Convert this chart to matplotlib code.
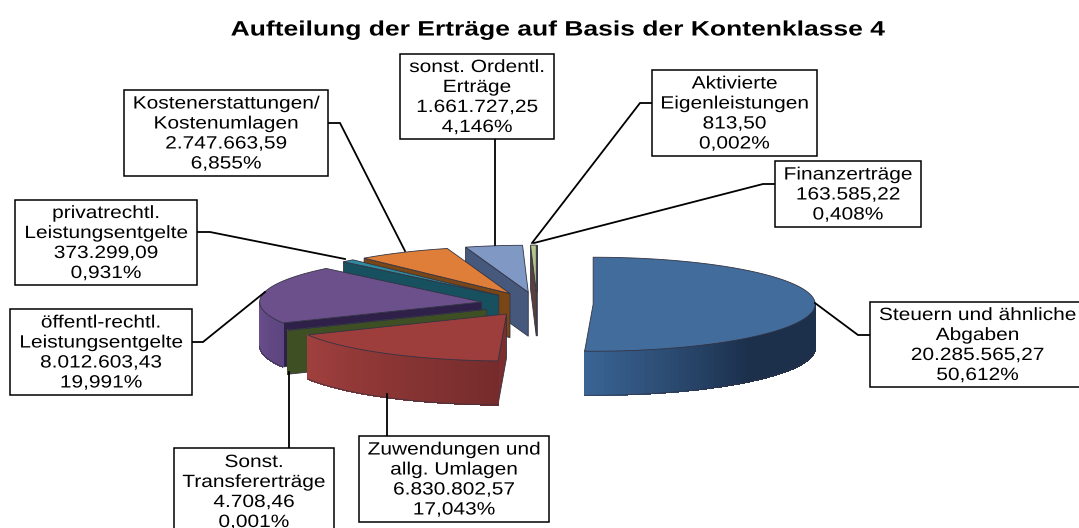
import numpy as np
import matplotlib
matplotlib.use("Agg")
import matplotlib.pyplot as plt
from matplotlib.patches import Polygon, Rectangle
from matplotlib.patheffects import AbstractPathEffect
from matplotlib.transforms import Affine2D

plt.rcParams['font.family'] = ['Liberation Sans', 'DejaVu Sans']

title = "Aufteilung der Erträge auf Basis der Kontenklasse 4"
names = ["Steuern und ähnliche\nAbgaben", "Zuwendungen und\nallg. Umlagen", "Sonst.\nTransfererträge",
         "öffentl-rechtl.\nLeistungsentgelte", "privatrechtl.\nLeistungsentgelte",
         "Kostenerstattungen/\nKostenumlagen", "sonst. Ordentl.\nErträge",
         "Finanzerträge", "Aktivierte\nEigenleistungen"]
values = [20285565.27, 6830802.57, 4708.46, 8012603.43, 373299.09,
          2747663.59, 1661727.25, 163585.22, 813.50]
value_labels = ["20.285.565,27", "6.830.802,57", "4.708,46", "8.012.603,43", "373.299,09",
                "2.747.663,59", "1.661.727,25", "163.585,22", "813,50"]
percent_labels = ["50,612%", "17,043%", "0,001%", "19,991%", "0,931%",
                  "6,855%", "4,146%", "0,408%", "0,002%"]

tops = ["#426c9b", "#9e3e3c", "#4d5f2c", "#6c508c", "#2f8a9e", "#de7e38", "#8098c4", "#b4c68a", "#b4c68a"]
rim_l = ["#3a6596", "#a0403e", "#3f4f24", "#6a4f8c", "#1d5a6c", "#8a4f1c", "#46587c", "#5a4038", "#5a4038"]
rim_r = ["#1c304c", "#762c2c", "#3f4f24", "#5d4580", "#1d5a6c", "#6e3f14", "#46587c", "#5a4038", "#5a4038"]
sides = ["#1c304c", "#7c2e2e", "#3f4f24", "#2e2048", "#17505f", "#7a4615", "#46587c", "#5a4038", "#5a4038"]

# box x0, y0, x1, y1 and leader line in picture pixels, two boxes run off the picture
boxes = [(870, 302, 1085, 387), (359, 436, 549, 522), (174, 448, 334, 535), (10, 309, 192, 395),
         (15, 200, 197, 285), (124, 90, 328, 176), (400, 54, 554, 139), (775, 161, 921, 227),
         (652, 70, 817, 156)]
leaders = [[(870, 335), (858, 335), (815, 303)], [(387, 436), (387, 394)], [(289, 448), (289, 372)],
           [(192, 342), (203, 342), (265, 292)], [(197, 232), (210, 232), (345, 259)],
           [(328, 123), (340, 123), (405, 251)], [(495, 139), (495, 245)],
           [(775, 184), (763, 184), (534, 243)], [(652, 103), (640, 103), (532, 243)]]

cx, cy = 537, 304
rx, ry = 222, 47
depth = 44
explode = 0.253
text_stretch = 1.175
title_stretch = 1.27


class Stretch(AbstractPathEffect):
    # the reference text is wider than the font, widen it about its centre
    def __init__(self, x_centre, sx):
        super().__init__()
        self.x_centre = x_centre
        self.sx = sx

    def draw_path(self, renderer, gc, tpath, affine, rgbFace=None):
        tr = affine + Affine2D().translate(-self.x_centre, 0).scale(self.sx, 1).translate(self.x_centre, 0)
        renderer.draw_path(gc, tpath, tr, rgbFace)


def pt(ox, oy, a):
    return ox + rx * np.sin(a), oy - ry * np.cos(a)


def mix(c1, c2, t):
    a = np.array(matplotlib.colors.to_rgb(c1))
    b = np.array(matplotlib.colors.to_rgb(c2))
    return a + (b - a) * t


fig = plt.figure(figsize=(10.79, 5.28), dpi=100)
ax = fig.add_axes([0, 0, 1, 1])
ax.set_xlim(0, 1079)
ax.set_ylim(528, 0)
ax.axis("off")

total = sum(values)
edges = np.concatenate([[0], np.cumsum(values) / total * 2 * np.pi])
edge_col = "#333344"

for i in list(range(8, -1, -1)):
    a0, a1 = edges[i], edges[i + 1]
    mid = (a0 + a1) / 2
    ox = cx + explode * rx * np.sin(mid)
    oy = cy - explode * ry * np.cos(mid)

    # radial side faces that look to the viewer
    if np.sin(a0) < 0:
        x, y = pt(ox, oy, a0)
        ax.add_patch(Polygon([(ox, oy), (x, y), (x, y + depth), (ox, oy + depth)], fc=sides[i], ec=edge_col, lw=0.6))
    if np.sin(a1) > 0.001:
        x, y = pt(ox, oy, a1)
        ax.add_patch(Polygon([(ox, oy), (x, y), (x, y + depth), (ox, oy + depth)], fc=sides[i], ec=edge_col, lw=0.6))

    # front rim with a colour run along the arc, darker to the right
    lo, hi = max(a0, np.pi / 2), min(a1, 3 * np.pi / 2)
    if hi > lo:
        ts = np.linspace(lo, hi, 80)
        for k in range(len(ts) - 1):
            x0, y0 = pt(ox, oy, ts[k])
            x1, y1 = pt(ox, oy, ts[k + 1])
            t = 1 - k / 79
            if i == 0:
                t = min(1, 2 * t)
            ax.add_patch(Polygon([(x0, y0), (x1, y1), (x1, y1 + depth), (x0, y0 + depth)],
                                 fc=mix(rim_l[i], rim_r[i], t), ec=mix(rim_l[i], rim_r[i], t), lw=0.5,
                                 antialiased=False))
        xs, ys = pt(ox, oy, ts)
        ax.plot(xs, ys + depth, color=edge_col, lw=0.5)

    # top face
    ts = np.linspace(a0, a1, max(3, int((a1 - a0) * 60)))
    xs, ys = pt(ox, oy, ts)
    ax.add_patch(Polygon(np.vstack([[ox, oy], np.column_stack([xs, ys])]), fc=tops[i], ec=edge_col, lw=0.6))

to_px = ax.transData
for i in range(9):
    ax.plot(*zip(*leaders[i]), color="black", lw=1.3, solid_joinstyle="miter")
    x0, y0, x1, y1 = boxes[i]
    ax.add_patch(Rectangle((x0, y0), x1 - x0, y1 - y0, fc="white", ec="black", lw=1.1, zorder=3))
    xc = (x0 + x1) / 2
    yc = (y0 + y1) / 2
    ax.text(xc, yc + 1, names[i] + "\n" + value_labels[i] + "\n" + percent_labels[i],
            ha="center", va="center", fontsize=12.8, linespacing=1.23, color="black", zorder=4,
            path_effects=[Stretch(to_px.transform((xc, 0))[0], text_stretch)])

ax.text(559, 30, title, ha="center", va="center", fontsize=15.0, fontweight="bold",
        path_effects=[Stretch(to_px.transform((559, 0))[0], title_stretch)])

fig.savefig("out.png", dpi=100)
